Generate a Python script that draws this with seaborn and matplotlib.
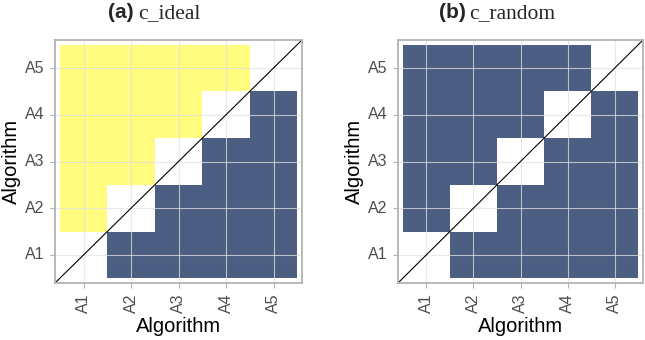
import numpy as np
import pandas as pd
import matplotlib
matplotlib.use("Agg")
import matplotlib.pyplot as plt
from matplotlib.colors import ListedColormap
import seaborn as sns

algorithms = ["A1", "A2", "A3", "A4", "A5"]
# rows: y = A1..A5, columns: x = A1..A5 ; 0 = yellow, 1 = blue, None = diagonal
c_ideal = [
    [None, 1, 1, 1, 1],
    [0, None, 1, 1, 1],
    [0, 0, None, 1, 1],
    [0, 0, 0, None, 1],
    [0, 0, 0, 0, None],
]
c_random = [
    [None, 1, 1, 1, 1],
    [1, None, 1, 1, 1],
    [1, 1, None, 1, 1],
    [1, 1, 1, None, 1],
    [1, 1, 1, 1, None],
]
panel_tags = ["(a)", "(b)"]
panel_names = ["c_ideal", "c_random"]

sns.set_style("white")
plt.rcParams["font.family"] = ["Liberation Sans", "DejaVu Sans"]

YELLOW = "#FFFC80"
BLUE = "#4C5E82"
cmap = ListedColormap([YELLOW, BLUE])

W, H = 645, 340
fig = plt.figure(figsize=(W / 100, H / 100), dpi=100)

boxes = [(55, 40, 302, 283), (398, 40, 643, 283)]
title_pos = [(134, 138), (466, 469)]

for i, (mat, tag, name) in enumerate(zip([c_ideal, c_random], panel_tags, panel_names)):
    l, t, r, b = boxes[i]
    ax = fig.add_axes([l / W, (H - b) / H, (r - l) / W, (b - t) / H])
    df = pd.DataFrame(np.array(mat, dtype=float), index=algorithms, columns=algorithms)
    df = df.iloc[::-1]  # A5 at top
    sns.heatmap(df, ax=ax, cmap=cmap, vmin=0, vmax=1, cbar=False, square=False,
                linewidths=0)
    ax.set_xlim(-0.1, 5.1)
    ax.set_ylim(5.1, -0.1)
    ax.plot([-0.1, 5.1], [5.1, -0.1], color="black", lw=0.8, zorder=4)
    ax.set_axisbelow(False)
    ax.grid(True, color="#E2E2E2", lw=0.8, alpha=0.75, zorder=3)
    for sp in ax.spines.values():
        sp.set_visible(True)
        sp.set_color("#B3B3B3")
        sp.set_linewidth(1.3)
        sp.set_zorder(5)
    ax.tick_params(axis="both", which="major", length=3.5, width=0.8, color="#B3B3B3",
                   labelsize=11.5, labelcolor="#4D4D4D", pad=4, bottom=True, left=True)
    ax.set_xticklabels(algorithms, rotation=90)
    ax.set_yticklabels(algorithms[::-1], rotation=0)
    ax.set_xlabel("Algorithm", fontsize=14.5, color="black", labelpad=3)
    ax.set_ylabel("Algorithm", fontsize=14.5, color="black", labelpad=3)
    xr, xl = title_pos[i]
    fig.text(xr / W, (H - 18) / H, tag, ha="right", va="baseline", fontsize=15,
             fontweight="bold", family=["Liberation Sans"])
    fig.text(xl / W, (H - 18) / H, name, ha="left", va="baseline", fontsize=15.5,
             family=["Liberation Serif"])

fig.savefig("out.png", dpi=100)
